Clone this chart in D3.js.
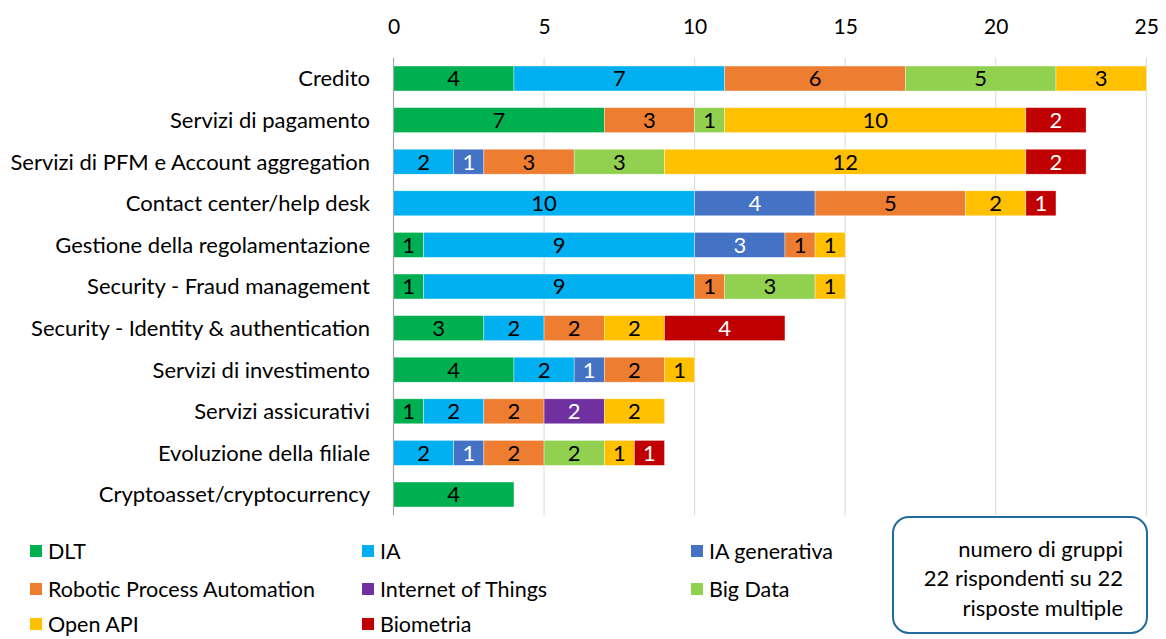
<!DOCTYPE html>
<html>
<head>
<meta charset="utf-8">
<script src="https://cdn.jsdelivr.net/npm/d3@7"></script>
<style>
  body { margin: 0; background: #fff; }
  svg text { font-family: Lato, "Open Sans", sans-serif; fill: #000; }
</style>
</head>
<body>
<div id="chart"></div>
<script>
// categories (top to bottom)
var categories = [
    "Credito",
    "Servizi di pagamento",
    "Servizi di PFM e Account aggregation",
    "Contact center/help desk",
    "Gestione della regolamentazione",
    "Security - Fraud management",
    "Security - Identity & authentication",
    "Servizi di investimento",
    "Servizi assicurativi",
    "Evoluzione della filiale",
    "Cryptoasset/cryptocurrency"
];

var seriesNames = ["DLT", "IA", "IA generativa", "Robotic Process Automation",
    "Internet of Things", "Big Data", "Open API", "Biometria"];
var seriesColors = ["#00B050", "#00B0F0", "#4472C4", "#ED7D31",
    "#7030A0", "#92D050", "#FFC000", "#C00000"];
var seriesLabelColors = ["#000", "#000", "#fff", "#000", "#fff", "#000", "#000", "#fff"];

// one array per series, same order as categories
var dlt        = [4, 7, 0, 0, 1, 1, 3, 4, 1, 0, 4];
var ia         = [7, 0, 2, 10, 9, 9, 2, 2, 2, 2, 0];
var iaGen      = [0, 0, 1, 4, 3, 0, 0, 1, 0, 1, 0];
var rpa        = [6, 3, 3, 5, 1, 1, 2, 2, 2, 2, 0];
var iot        = [0, 0, 0, 0, 0, 0, 0, 0, 2, 0, 0];
var bigData    = [5, 1, 3, 0, 0, 3, 0, 0, 0, 2, 0];
var openApi    = [3, 10, 12, 2, 1, 1, 2, 1, 2, 1, 0];
var biometria  = [0, 2, 2, 1, 0, 0, 4, 0, 0, 1, 0];

var xTicks = [0, 5, 10, 15, 20, 25];

var noteLines = ["numero di gruppi", "22 rispondenti su 22", "risposte multiple"];

var seriesValues = [dlt, ia, iaGen, rpa, iot, bigData, openApi, biometria];

// build table for d3.stack
var table = categories.map(function (c, i) {
    var row = { cat: c };
    seriesNames.forEach(function (s, j) { row[s] = seriesValues[j][i]; });
    return row;
});

var stacked = d3.stack().keys(seriesNames)(table);

var width = 1166, height = 639;
var svg = d3.select("#chart").append("svg")
    .attr("width", width)
    .attr("height", height);

var x = d3.scaleLinear().domain([0, 25]).range([393.5, 1146.3]);
var y = d3.scaleBand().domain(categories).range([57.7, 515.3]).paddingInner(0.4).paddingOuter(0.2);

// gridlines
svg.append("g")
    .selectAll("line")
    .data(xTicks.slice(1))
    .enter().append("line")
    .attr("x1", function (d) { return x(d); })
    .attr("x2", function (d) { return x(d); })
    .attr("y1", 57.7)
    .attr("y2", 515.3)
    .style("stroke", "#d9d9d9")
    .style("stroke-width", 1);

// top axis
var xAxis = svg.append("g")
    .attr("transform", "translate(0,34)")
    .call(d3.axisTop(x).tickValues(xTicks).tickSize(0).tickPadding(0));
xAxis.select(".domain").remove();
xAxis.selectAll("text")
    .style("font-size", "21px")
    .style("font-family", "Lato, sans-serif")
    .attr("fill", "#000")
    .attr("dy", 0);

// bars
var layer = svg.selectAll(".layer")
    .data(stacked)
    .enter().append("g")
    .attr("class", "layer")
    .style("fill", function (d, i) { return seriesColors[i]; });

layer.selectAll("rect")
    .data(function (d) { return d; })
    .enter().append("rect")
    .attr("x", function (d) { return x(d[0]); })
    .attr("y", function (d) { return y(d.data.cat); })
    .attr("width", function (d) { return x(d[1]) - x(d[0]); })
    .attr("height", y.bandwidth())
    .style("stroke", "#fff")
    .style("stroke-width", 0.6)
    .style("stroke-opacity", 0.6);

// value labels
layer.each(function (s, i) {
    d3.select(this).selectAll("text")
        .data(s.filter(function (d) { return d[1] - d[0] > 0; }))
        .enter().append("text")
        .attr("x", function (d) { return (x(d[0]) + x(d[1])) / 2; })
        .attr("y", function (d) { return y(d.data.cat) + y.bandwidth() / 2; })
        .attr("dy", "0.36em")
        .attr("text-anchor", "middle")
        .style("font-size", "22px")
        .style("fill", seriesLabelColors[i])
        .text(function (d) { return d[1] - d[0]; });
});

// y axis line
svg.append("line")
    .attr("x1", x(0)).attr("x2", x(0))
    .attr("y1", 57.7).attr("y2", 515.3)
    .style("stroke", "#a6a6a6")
    .style("stroke-width", 1.2);

// category labels
svg.append("g")
    .selectAll("text")
    .data(categories)
    .enter().append("text")
    .attr("x", 370)
    .attr("y", function (d) { return y(d) + y.bandwidth() / 2; })
    .attr("dy", "0.36em")
    .attr("text-anchor", "end")
    .style("font-size", "22px")
    .text(function (d) { return d; });

// legend: 3 columns
var legendCols = [30, 362, 691];
var legendRows = [551, 589, 624];
var legend = svg.append("g")
    .selectAll("g")
    .data(seriesNames)
    .enter().append("g")
    .attr("transform", function (d, i) {
        return "translate(" + legendCols[i % 3] + "," + legendRows[Math.floor(i / 3)] + ")";
    });
legend.append("rect")
    .attr("x", 0).attr("y", -6)
    .attr("width", 12).attr("height", 12)
    .style("fill", function (d, i) { return seriesColors[i]; });
legend.append("text")
    .attr("x", 18)
    .attr("dy", "0.36em")
    .style("font-size", "21.5px")
    .text(function (d) { return d; });

// note box
svg.append("rect")
    .attr("x", 893).attr("y", 517)
    .attr("width", 254).attr("height", 116)
    .attr("rx", 16).attr("ry", 16)
    .style("fill", "#fff")
    .style("stroke", "#1f6b9a")
    .style("stroke-width", 2);
svg.append("g")
    .selectAll("text")
    .data(noteLines)
    .enter().append("text")
    .attr("x", 1123)
    .attr("y", function (d, i) { return 549 + i * 29.5; })
    .attr("dy", "0.36em")
    .attr("text-anchor", "end")
    .style("font-size", "22px")
    .text(function (d) { return d; });
</script>
</body>
</html>
